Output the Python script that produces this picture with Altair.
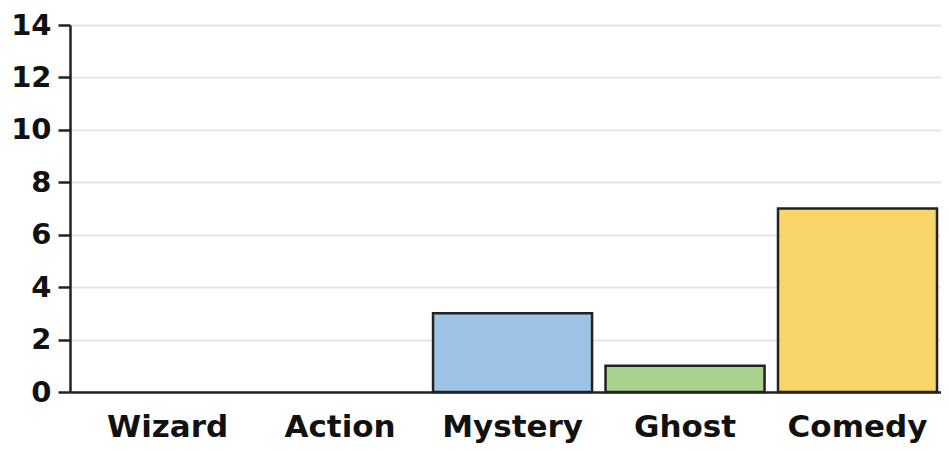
import altair as alt
import pandas as pd

genres = ["Wizard", "Action", "Mystery", "Ghost", "Comedy"]
counts = [0, 0, 3, 1, 7]
colors = ["#9DC3E6", "#9DC3E6", "#9DC3E6", "#A9D18E", "#F8D568"]

df = pd.DataFrame({"genre": genres, "count": counts, "color": colors})

FONT = "DejaVu Sans"

chart = alt.Chart(df).transform_filter(
    alt.datum.count > 0
).mark_bar(stroke="#222222", strokeWidth=2.5).encode(
    x=alt.X("genre:N", sort=genres, title=None,
            scale=alt.Scale(domain=genres, paddingInner=0.078, paddingOuter=0.064, align=0.82),
            axis=alt.Axis(labelAngle=0, ticks=False, tickSize=0, labelPadding=20,
                          labelFont=FONT, labelFontSize=31, labelFontWeight="bold",
                          labelColor="#111111", domainColor="#222222", domainWidth=2.5,
                          grid=False)),
    y=alt.Y("count:Q", title=None,
            scale=alt.Scale(domain=[0, 14], nice=False),
            axis=alt.Axis(values=[0, 2, 4, 6, 8, 10, 12, 14], tickSize=12, tickWidth=2.5,
                          tickColor="#222222", labelPadding=7,
                          labelFont=FONT, labelFontSize=29, labelFontWeight="bold",
                          labelColor="#111111", domainColor="#222222", domainWidth=2.5,
                          grid=True, gridColor="#e6e6e6", gridWidth=2)),
    color=alt.Color("color:N", scale=None),
).properties(
    width=871, height=367,
    autosize=alt.AutoSizeParams(type="none"),
    padding={"left": 62, "top": 17, "right": 0, "bottom": 55},
).configure_view(stroke=None)

chart.save("out.html", embed_options={"renderer": "svg", "actions": False})
